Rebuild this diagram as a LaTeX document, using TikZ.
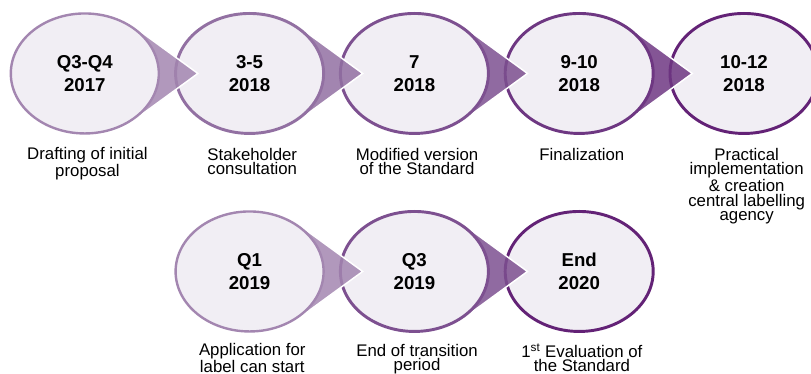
\documentclass[tikz,border=0pt]{standalone}
\usepackage{fontspec}
\setmainfont{Liberation Sans}
\usetikzlibrary{calc, positioning}
\usetikzlibrary{shapes.geometric}
\definecolor{stagefill}{HTML}{F1EEF4}
\definecolor{stageA}{HTML}{A386B0}
\definecolor{stageB}{HTML}{9270A2}
\definecolor{stageC}{HTML}{7D5090}
\definecolor{stageD}{HTML}{6E3782}
\definecolor{stageE}{HTML}{632276}
\tikzset{
    stage/.style={ellipse, fill=stagefill, line width=2.2pt,
        minimum width=111pt, minimum height=90pt, inner sep=0pt,
        align=center, font=\fontsize{14}{17}\selectfont\bfseries},
    caption/.style={on grid=false, align=center, inner sep=0pt, xshift=2pt,
        font=\fontsize{12.6}{10.9}\selectfont}
}
% pointer of a stage, given relative to the stage that follows it
\newcommand{\stagepointer}[2]{%
  \path[fill=#2, fill opacity=0.85, draw=white, line width=1.1pt]
    ($(#1.center)+(-38.8pt,0)$) -- ($(#1.center)+(-86.1pt,34.5pt)$)
    -- ($(#1.center)+(-86.1pt,-34.5pt)$) -- cycle;}

\begin{document}
\begin{tikzpicture}[node distance = 123.6pt, on grid]
      \useasboundingbox (0,0) rectangle (608.25pt,-280.5pt);
      % top row, right to left so each pointer sits under its own stage
      \node[stage, draw=stageE] (s5) at (558pt,-55.1pt) {10-12\\2018};
      \stagepointer{s5}{stageD}
      \node[stage, draw=stageD] (s4) [left = of s5] {9-10\\2018};
      \stagepointer{s4}{stageC}
      \node[stage, draw=stageC] (s3) [left = of s4] {7\\2018};
      \stagepointer{s3}{stageB}
      \node[stage, draw=stageB] (s2) [left = of s3] {3-5\\2018};
      \stagepointer{s2}{stageA}
      \node[stage, draw=stageA, line width=1.8pt] (s1) [left = of s2] {Q3-Q4\\2017};

      % bottom row
      \node[stage, draw=stageE] (b3) [below = 148.5pt of s4] {End\\2020};
      \stagepointer{b3}{stageC}
      \node[stage, draw=stageC] (b2) [left = of b3] {Q3\\2019};
      \stagepointer{b2}{stageA}
      \node[stage, draw=stageA, line width=1.8pt] (b1) [left = of b2] {Q1\\2019};

      % captions
      \node[caption] (t1) [below = 9.5pt of s1.south] {Drafting of initial\\proposal};
      \node[caption] (t2) [below = 9.5pt of s2.south] {Stakeholder\\consultation};
      \node[caption] (t3) [below = 9.5pt of s3.south] {Modified version\\of the Standard};
      \node[caption] (t4) [below = 9.5pt of s4.south] {Finalization};
      \node[caption] (t5) [below = 9.5pt of s5.south] {Practical\\implementation\\\& creation\\central labelling\\agency};
      \node[caption] (c1) [below = 8pt of b1.south] {Application for\\label can start};
      \node[caption] (c2) [below = 8pt of b2.south] {End of transition\\period};
      \node[caption] (c3) [below = 8pt of b3.south] {1\textsuperscript{st} Evaluation of\\the Standard};
     \end{tikzpicture}
\end{document}
